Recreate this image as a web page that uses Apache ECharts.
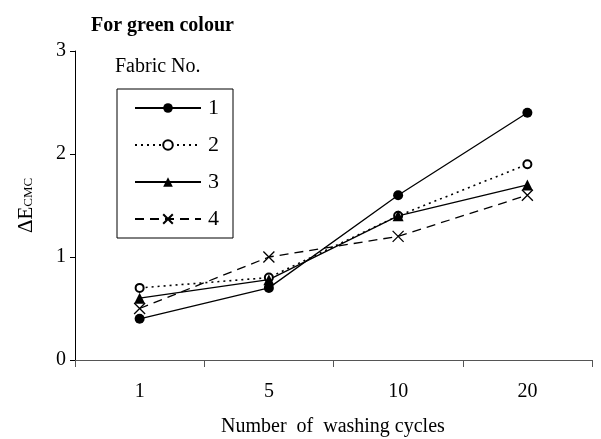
<!DOCTYPE html>
<html><head><meta charset="utf-8">
<script src="https://cdn.jsdelivr.net/npm/echarts@6/dist/echarts.min.js"></script>
<style>html,body{margin:0;padding:0;background:#fff}#c{width:601px;height:439px}</style>
</head><body><div id="c"></div>
<script>
const categories = ['1', '5', '10', '20'];
const seriesNames = ['1', '2', '3', '4'];
const fabric1 = [0.4, 0.7, 1.6, 2.4];
const fabric2 = [0.7, 0.8, 1.4, 1.9];
const fabric3 = [0.6, 0.78, 1.4, 1.7];
const fabric4 = [0.5, 1.0, 1.2, 1.6];
const yTicks = [0, 1, 2, 3];

const font = '"Liberation Serif", "Times New Roman", serif';
const chart = echarts.init(document.getElementById('c'));
const crossPath = 'path://M0,0L10,10M10,0L0,10';
chart.setOption({
  animation: false,
  backgroundColor: '#fff',
  textStyle: { fontFamily: font, color: '#000' },
  title: {
    text: 'For green colour', left: 86, top: 11,
    textStyle: { fontFamily: font, fontWeight: 'bold', fontSize: 20, color: '#000' }
  },
  grid: { left: 75, right: 9, top: 51, bottom: 79 },
  legend: {
    orient: 'vertical', left: 117, top: 89, width: 112,
    padding: [8, 14, 8, 17],
    borderColor: '#000', borderWidth: 1,
    itemWidth: 66, itemHeight: 12, itemGap: 15,
    data: seriesNames,
    textStyle: { fontFamily: font, fontSize: 22, color: '#000', padding: [0, 0, 0, 2] }
  },
  graphic: [
    { type: 'text', left: 115, top: 57, style: { text: 'Fabric No.', font: '20px ' + font, fill: '#000' } },
    { type: 'text', left: 221, top: 417, style: { text: 'Number  of  washing cycles', font: '20px ' + font, fill: '#000' } }
  ],
  xAxis: {
    type: 'category', data: categories, boundaryGap: true,
    axisLine: { lineStyle: { color: '#555', width: 1 } },
    axisTick: { show: true, length: 7, lineStyle: { color: '#555' } },
    axisLabel: { fontFamily: font, fontSize: 20, color: '#000', margin: 22 }
  },
  yAxis: {
    type: 'value', min: yTicks[0], max: yTicks[yTicks.length - 1], interval: 1,
    name: '{a|ΔE}{b|CMC}', nameLocation: 'middle', nameGap: 38, nameRotate: 90,
    nameTextStyle: { rich: { a: { fontFamily: font, fontSize: 21, color: '#000' }, b: { fontFamily: font, fontSize: 13, color: '#000', padding: [4, 0, 0, 0] } } },
    splitLine: { show: false },
    axisLine: { show: true, lineStyle: { color: '#000', width: 1 } },
    axisTick: { show: true, length: 5, inside: false, lineStyle: { color: '#000' } },
    axisLabel: { fontFamily: font, fontSize: 20, color: '#000', margin: 9 }
  },
  series: [
    { name: '1', type: 'line', data: fabric1, symbol: 'circle', symbolSize: 10,
      itemStyle: { color: '#000' }, lineStyle: { color: '#000', width: 1.3 } },
    { name: '2', type: 'line', data: fabric2, symbol: 'emptyCircle', symbolSize: 8,
      itemStyle: { color: '#000', borderWidth: 1.3 }, lineStyle: { color: '#000', width: 1.6, type: [2, 4] } },
    { name: '3', type: 'line', data: fabric3, symbol: 'triangle', symbolSize: 11,
      itemStyle: { color: '#000' }, lineStyle: { color: '#000', width: 1.3 } },
    { name: '4', type: 'line', data: fabric4, symbol: crossPath, symbolSize: 11,
      itemStyle: { color: 'none', borderColor: '#000', borderWidth: 1.3 },
      lineStyle: { color: '#000', width: 1.3, type: [9, 6] } }
  ]
});
</script></body></html>
